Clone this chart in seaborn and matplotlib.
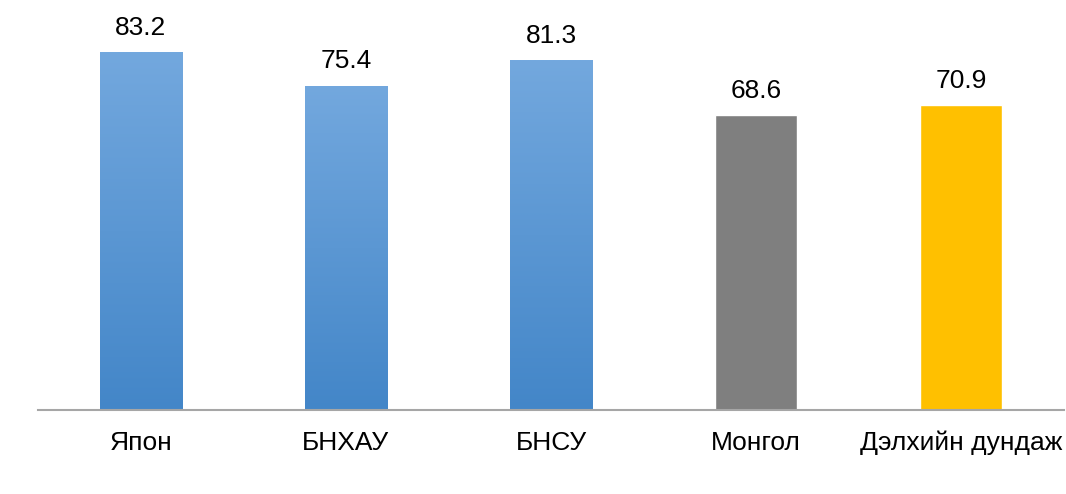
import numpy as np
import pandas as pd
import matplotlib
matplotlib.use("Agg")
import matplotlib.pyplot as plt
import seaborn as sns

# --- data ---
countries = ["Япон", "БНХАУ", "БНСУ", "Монгол", "Дэлхийн дундаж"]
values = [83.2, 75.4, 81.3, 68.6, 70.9]
bar_colors = ["#5b9bd5", "#5b9bd5", "#5b9bd5", "#7f7f7f", "#ffc000"]
gradient_bars = [True, True, True, False, False]

df = pd.DataFrame({"country": countries, "value": values})

sns.set_theme(style="white")
plt.rcParams["font.family"] = ["Liberation Sans", "DejaVu Sans"]

fig = plt.figure(figsize=(10.66, 4.94), dpi=100)
ax = fig.add_axes([38 / 1066, 84 / 494, 1026 / 1066, 387 / 494])

sns.barplot(data=df, x="country", y="value", hue="country", palette=bar_colors,
            width=0.4, legend=False, ax=ax, saturation=1)

# blue gradient fill (light top -> darker bottom)
cmap = matplotlib.colors.LinearSegmentedColormap.from_list("blu", ["#4386c8", "#73a8de"])
grad = np.linspace(0, 1, 256).reshape(-1, 1)
for patch, use_grad in zip(ax.patches, gradient_bars):
    if not use_grad:
        continue
    x0, y0 = patch.get_x(), patch.get_y()
    w, h = patch.get_width(), patch.get_height()
    im = ax.imshow(grad, cmap=cmap, origin="lower", aspect="auto",
                   extent=[x0, x0 + w, y0, y0 + h], zorder=patch.get_zorder() + 0.1)
    im.set_clip_path(patch)

for patch, v in zip(ax.patches, values):
    ax.annotate(f"{v}", (patch.get_x() + patch.get_width() / 2, v),
                xytext=(0, 9), textcoords="offset points",
                ha="center", va="bottom", fontsize=19, color="#000000")

ax.set_xlim(-0.5, len(countries) - 0.5)
ax.set_ylim(0, 90)
ax.set_xlabel("")
ax.set_ylabel("")
ax.set_yticks([])
ax.tick_params(axis="x", length=0, pad=15, labelsize=19, labelcolor="#000000")
for side in ["top", "right", "left"]:
    ax.spines[side].set_visible(False)
ax.spines["bottom"].set_color("#a6a6a6")
ax.spines["bottom"].set_linewidth(1.5)

fig.savefig("out.png", dpi=100)
plt.close(fig)
